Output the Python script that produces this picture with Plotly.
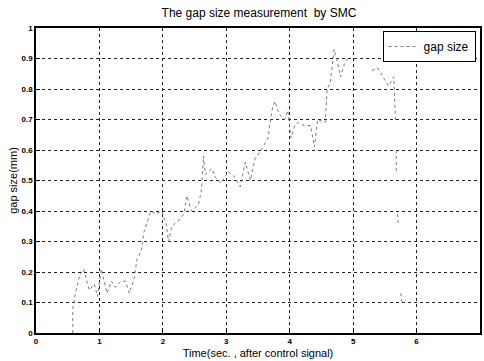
import plotly.graph_objects as go

# Time (s) and gap size (mm); None marks faded gaps
time_s = [0.58, 0.58, 0.58, 0.62, 0.69, 0.75, 0.81, 0.84, 0.92, 0.97, 1.03, 1.08, 1.12,
          1.19, 1.25, 1.34, 1.41, 1.47, 1.55, 1.59, 1.66, 1.70, 1.75, 1.81, 1.89, 1.98,
          2.05, 2.09, 2.14, 2.25, 2.33, 2.38, 2.45, 2.56, 2.61, 2.64, 2.67, 2.77, 2.83,
          2.92, 3.03, 3.14, 3.22, 3.30, 3.38, 3.45, 3.55, 3.66, 3.69, 3.73, 3.77, 3.81,
          3.86, 3.92, 3.97, 4.00, 4.02, 4.08, 4.12, 4.23, 4.33, 4.39, 4.44, 4.56, 4.59,
          4.64, 4.70, 4.75, 4.80, 4.86, 4.91, None, 5.30, 5.38, 5.50, 5.56, 5.64, 5.67,
          None, 5.68, 5.68, None, 5.70, 5.71, None, 5.75, 5.77]
gap_mm = [0.00, 0.02, 0.08, 0.13, 0.19, 0.21, 0.16, 0.14, 0.16, 0.12, 0.21, 0.16, 0.13,
          0.17, 0.15, 0.17, 0.17, 0.13, 0.18, 0.24, 0.27, 0.33, 0.36, 0.40, 0.39, 0.40,
          0.36, 0.30, 0.35, 0.37, 0.39, 0.45, 0.40, 0.42, 0.47, 0.58, 0.52, 0.54, 0.51,
          0.49, 0.53, 0.51, 0.48, 0.56, 0.50, 0.57, 0.60, 0.64, 0.69, 0.74, 0.76, 0.73,
          0.71, 0.70, 0.73, 0.67, 0.64, 0.68, 0.69, 0.68, 0.68, 0.61, 0.70, 0.69, 0.80,
          0.82, 0.93, 0.89, 0.84, 0.88, 0.90, None, 0.86, 0.87, 0.83, 0.81, 0.84, 0.69,
          None, 0.60, 0.53, None, 0.39, 0.36, None, 0.13, 0.10]

x_ticks = [0, 1, 2, 3, 4, 5, 6]
y_ticks = [0, 0.1, 0.2, 0.3, 0.4, 0.5, 0.6, 0.7, 0.8, 0.9, 1]
y_tick_text = ["0", "0.1", "0.2", "0.3", "0.4", "0.5", "0.6", "0.7", "0.8", "0.9", "1"]

fig = go.Figure()
fig.add_trace(go.Scatter(
    x=time_s, y=gap_mm, mode="lines", name="gap size",
    line=dict(color="#7a7a7a", width=1, dash="dot"),
    connectgaps=False,
))

axis_common = dict(
    showline=True, linecolor="black", linewidth=1.5, mirror=True,
    ticks="inside", ticklen=4, tickcolor="black",
    showgrid=True, gridcolor="#222222", gridwidth=1, griddash="dot",
    zeroline=False,
    tickfont=dict(family="Liberation Sans, Arial", size=8, color="black", weight="bold"),
)

fig.update_layout(
    width=484, height=361,
    margin=dict(l=36, r=2, t=28, b=28),
    paper_bgcolor="white", plot_bgcolor="white",
    font=dict(family="Liberation Sans, Arial", color="black"),
    title=dict(text="The gap size measurement  by SMC", x=0.535, xanchor="center",
               y=0.965, yanchor="middle", font=dict(size=12)),
    xaxis=dict(range=[0, 7], tickvals=x_ticks,
               title=dict(text="Time(sec. , after control signal)", font=dict(size=11), standoff=4),
               **axis_common),
    yaxis=dict(range=[0, 1], tickvals=y_ticks, ticktext=y_tick_text,
               title=dict(text="gap size(mm)", font=dict(size=11), standoff=2),
               **axis_common),
    showlegend=True,
    legend=dict(x=0.99, y=0.99, xanchor="right", yanchor="top",
                bordercolor="black", borderwidth=1, bgcolor="white",
                font=dict(size=12), itemwidth=30),
)

fig.write_html("out.html")
